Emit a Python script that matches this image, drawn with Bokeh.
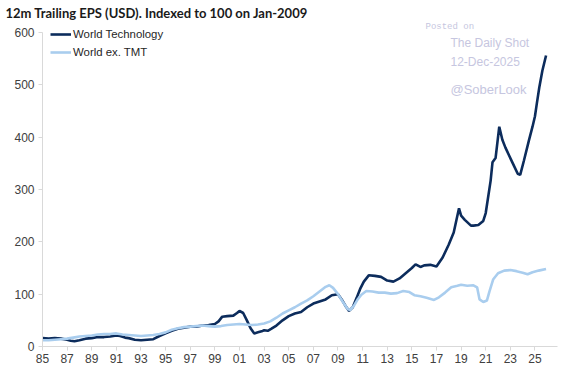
from bokeh.plotting import figure
from bokeh.models import FixedTicker, Label, Legend, LegendItem
from bokeh.embed import file_html
from bokeh.resources import INLINE

# ---- data ----
tech_years = [1985.0, 1985.5, 1986.0, 1986.5, 1987.0, 1987.3, 1987.6, 1988.0, 1988.5, 1989.0,
              1989.5, 1990.0, 1990.5, 1991.0, 1991.3, 1991.7, 1992.0, 1992.5, 1993.0, 1993.5,
              1994.0, 1994.5, 1995.0, 1995.5, 1996.0, 1996.5, 1997.0, 1997.5, 1998.0, 1998.5,
              1999.0, 1999.3, 1999.6, 2000.0, 2000.5, 2000.8, 2001.0, 2001.3, 2001.6, 2001.9,
              2002.2, 2002.5, 2002.8, 2003.0, 2003.3, 2003.6, 2004.0, 2004.5, 2005.0, 2005.5,
              2006.0, 2006.5, 2007.0, 2007.5, 2008.0, 2008.5, 2009.0, 2009.3, 2009.6, 2009.9,
              2010.2, 2010.5, 2010.8, 2011.1, 2011.5, 2012.0, 2012.5, 2013.0, 2013.5, 2014.0,
              2014.5, 2015.0, 2015.3, 2015.7, 2016.0, 2016.5, 2017.0, 2017.5, 2018.0, 2018.4,
              2018.83, 2019.0, 2019.3, 2019.8, 2020.0, 2020.4, 2020.8, 2021.0, 2021.4, 2021.55,
              2021.8, 2022.1, 2022.35, 2022.6, 2022.9, 2023.2, 2023.6, 2023.8, 2024.1, 2024.5,
              2024.8, 2025.0, 2025.15, 2025.35, 2025.6, 2025.9]
tech_values = [16, 15, 16, 15, 13, 11, 10, 12, 15, 16,
               18, 18, 19, 21, 20, 17, 16, 13, 12, 13,
               14, 20, 25, 30, 34, 36, 38, 38, 40, 41,
               43, 48, 57, 58, 59, 64, 68, 64, 50, 35,
               25, 27, 29, 31, 30, 34, 40, 50, 58, 63,
               66, 75, 82, 86, 90, 98, 100, 90, 78, 68,
               75, 92, 110, 124, 136, 135, 133, 126, 124, 130,
               140, 150, 157, 152, 155, 156, 153, 170, 195, 218,
               264, 250, 242, 231, 231, 232, 240, 255, 317, 352,
               360, 420, 395, 380, 365, 350, 330, 328, 355, 393,
               420, 440, 464, 495, 527, 556]

extmt_years = [1985.0, 1985.5, 1986.0, 1986.5, 1987.0, 1987.5, 1988.0, 1988.5, 1989.0, 1989.5,
               1990.0, 1990.5, 1991.0, 1991.5, 1992.0, 1992.5, 1993.0, 1993.5, 1994.0, 1994.5,
               1995.0, 1995.5, 1996.0, 1996.5, 1997.0, 1997.5, 1998.0, 1998.5, 1999.0, 1999.5,
               2000.0, 2000.5, 2001.0, 2001.5, 2002.0, 2002.5, 2003.0, 2003.5, 2004.0, 2004.5,
               2005.0, 2005.5, 2006.0, 2006.5, 2007.0, 2007.5, 2008.0, 2008.3, 2008.6, 2009.0,
               2009.4, 2009.8, 2010.0, 2010.3, 2010.6, 2010.9, 2011.3, 2011.8, 2012.3, 2012.8,
               2013.3, 2013.8, 2014.3, 2014.8, 2015.2, 2015.7, 2016.2, 2016.8, 2017.2, 2017.7,
               2018.2, 2018.7, 2019.0, 2019.5, 2020.0, 2020.3, 2020.5, 2020.8, 2021.1, 2021.3,
               2021.6, 2022.0, 2022.5, 2023.0, 2023.5, 2024.0, 2024.4, 2024.8, 2025.3, 2025.9]
extmt_values = [12, 12, 13, 14, 15, 17, 19, 20, 21, 23,
                24, 24, 25, 23, 22, 21, 20, 21, 22, 24,
                27, 32, 35, 37, 38, 39, 40, 39, 38, 39,
                41, 42, 43, 42, 41, 42, 44, 48, 55, 63,
                69, 75, 82, 88, 96, 105, 114, 117, 112, 100,
                85, 71, 70, 78, 90, 99, 106, 105, 103, 103,
                101, 102, 106, 104, 98, 96, 93, 89, 94, 103,
                113, 116, 118, 116, 117, 113, 90, 85, 88, 105,
                128, 140, 145, 146, 144, 141, 138, 142, 145, 148]

x_ticks = [1985, 1987, 1989, 1991, 1993, 1995, 1997, 1999, 2001, 2003, 2005,
           2007, 2009, 2011, 2013, 2015, 2017, 2019, 2021, 2023, 2025]
x_tick_labels = ["85", "87", "89", "91", "93", "95", "97", "99", "01", "03", "05",
                 "07", "09", "11", "13", "15", "17", "19", "21", "23", "25"]
y_ticks = [0, 100, 200, 300, 400, 500, 600]

series_names = ["World Technology", "World ex. TMT"]
title_text = "12m Trailing EPS (USD). Indexed to 100 on Jan-2009"

# ---- figure ----
FRAME_TOP, FRAME_BOTTOM, FRAME_LEFT = 20, 346, 42
FRAME_H = FRAME_BOTTOM - FRAME_TOP
p = figure(width=564, height=372, output_backend="svg", toolbar_location=None,
           x_range=(1985, 2026.83), y_range=(0, 622.9),
           min_border_left=FRAME_LEFT, min_border_right=7,
           min_border_top=FRAME_TOP, min_border_bottom=372 - FRAME_BOTTOM,
           background_fill_color="white", border_fill_color="white")
p.outline_line_color = None
p.xgrid.visible = False
p.ygrid.visible = False

p.title.text = title_text
p.title.align = "left"
p.title.offset = -37
p.title.standoff = 0
p.title.text_font = "Lato"
p.title.text_font_style = "bold"
p.title.text_font_size = "13px"
p.title.text_color = "#1a1a1a"

tech_r = p.line(tech_years, tech_values, line_color="#0c2c5c", line_width=2.6)
ex_r = p.line(extmt_years, extmt_values, line_color="#a9cdee", line_width=2.6)

for ax in (p.xaxis[0], p.yaxis[0]):
    ax.axis_line_color = "#d9d9d9"
    ax.major_tick_line_color = "#d9d9d9"
    ax.minor_tick_line_color = None
    ax.major_tick_in = 0
    ax.major_tick_out = 4
    ax.major_label_text_font = "Liberation Sans"
    ax.major_label_text_font_size = "12px"
    ax.major_label_text_color = "#404040"

p.xaxis.ticker = FixedTicker(ticks=x_ticks)
p.xaxis.major_label_overrides = {t: l for t, l in zip(x_ticks, x_tick_labels)}
p.xaxis.major_label_standoff = 3
p.yaxis.ticker = FixedTicker(ticks=y_ticks)
p.yaxis.bounds = (0, 600)
p.yaxis.major_label_standoff = 4

# legend: location = (left, bottom) in frame pixels; top row centred at y=33.7 px
legend = Legend(items=[LegendItem(label=series_names[0], renderers=[tech_r]),
                       LegendItem(label=series_names[1], renderers=[ex_r])],
                location=(8, FRAME_BOTTOM - 61), padding=0, margin=0, spacing=0,
                glyph_width=21, glyph_height=18, label_height=18, label_standoff=2,
                label_text_font="Liberation Sans", label_text_font_size="11.4px",
                label_text_color="#262626", background_fill_alpha=0, border_line_color=None)
p.add_layout(legend)

wm = "#c6c6e0"
def wlabel(px, py, txt, font, size):
    p.add_layout(Label(x=px - FRAME_LEFT, y=FRAME_BOTTOM - py, x_units="screen", y_units="screen",
                       text=txt, text_font=font, text_font_size=size, text_color=wm,
                       text_baseline="middle"))

wlabel(425, 26, "Posted on", "Liberation Mono", "9px")
wlabel(450, 42, "The Daily Shot", "Liberation Sans", "12px")
wlabel(450, 61, "12-Dec-2025", "Liberation Sans", "12px")
wlabel(450, 89, "@SoberLook", "Liberation Sans", "13px")

open("out.html", "w").write(file_html(p, INLINE))
